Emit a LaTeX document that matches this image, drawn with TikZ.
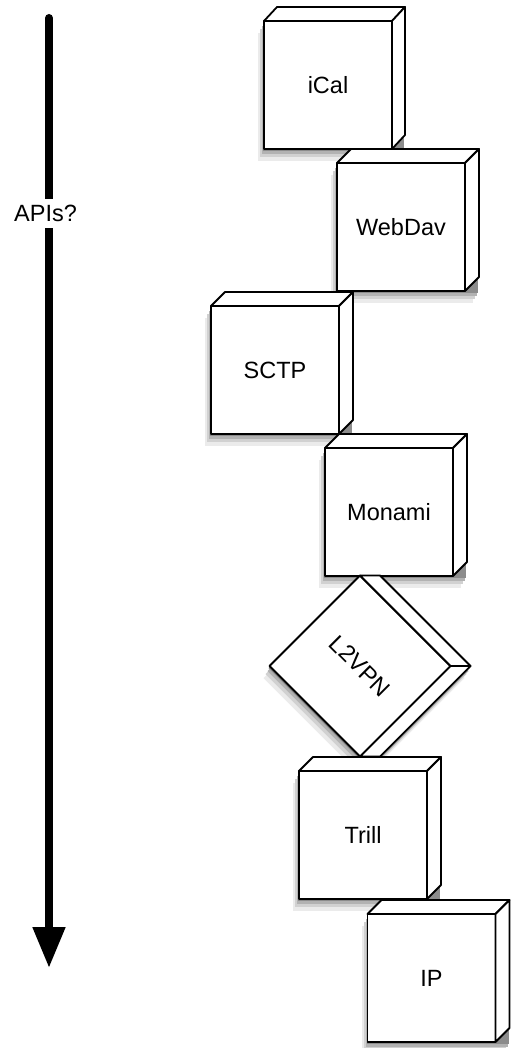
\documentclass[tikz,border=0pt]{standalone}
\usepackage{fontspec}
\setmainfont{Liberation Sans}
\usetikzlibrary{arrows.meta}
\tikzset{
  cubefront/.style={draw, line width=1.8pt, fill=white, minimum size=128pt, inner sep=0pt, outer sep=0pt,
    line join=round, font=\fontsize{23.5}{28}\selectfont},
  cubeface/.style={draw, line width=1.8pt, fill=white, line join=round},
  shA/.style={fill=black!8},
  shB/.style={fill=black!18},
  shC/.style={fill=black!30},
  shD/.style={fill=black!45},
  apilabel/.style={fill=white, inner xsep=1pt, inner ysep=6.4pt, font=\fontsize{23.5}{28}\selectfont},
  bigarrow/.style={line width=8pt, line cap=round, -{Triangle[width=31pt,length=41pt]}}
}
\newcommand\mkfaces[2]{%
  \draw[cubeface] (#1.north west) -- ++(#2) -- ([shift={(#2)}]#1.north east) -- (#1.north east) -- cycle;
  \draw[cubeface] (#1.north east) -- ++(#2) -- ([shift={(#2)}]#1.south east) -- (#1.south east) -- cycle;}
\begin{document}
\begin{tikzpicture}[x=1pt,y=-1pt]
  \useasboundingbox (0,0) rectangle (517,1048);
  % arrow
  \coordinate (atop) at (49,18);
  \coordinate (abot) at (49,968);
  \draw[bigarrow] (atop) -- (abot);
  \node[apilabel] (apis) at (45.5,213.5) {APIs?};
  % iCal
  \fill[shA] (258,33) rectangle (399,161);
  \fill[shB] (260,29) rectangle (401,157);
  \fill[shC] (262,26) rectangle (403,154);
  \fill[shD] (263,23) rectangle (404,151);
  \node[cubefront] (ical)   at (328,85)  {iCal};
  \mkfaces{ical}{13,-14}
  % WebDav
  \fill[shA] (331,175) rectangle (473,303);
  \fill[shB] (333,171) rectangle (475,299);
  \fill[shC] (335,168) rectangle (477,296);
  \fill[shD] (336,165) rectangle (478,293);
  \node[cubefront] (webdav) at (401,227) {WebDav};
  \mkfaces{webdav}{14,-14}
  % SCTP
  \fill[shA] (205,318) rectangle (347,446);
  \fill[shB] (207,314) rectangle (349,442);
  \fill[shC] (209,311) rectangle (351,439);
  \fill[shD] (210,308) rectangle (352,436);
  \node[cubefront] (sctp)   at (275,370) {SCTP};
  \mkfaces{sctp}{14,-14}
  % Monami
  \fill[shA] (319,460) rectangle (461,588);
  \fill[shB] (321,456) rectangle (463,584);
  \fill[shC] (323,453) rectangle (465,581);
  \fill[shD] (324,450) rectangle (466,578);
  \node[cubefront] (monami) at (389,512) {Monami};
  \mkfaces{monami}{14,-14}
  % L2VPN
  \fill[shA] (354,587.5) -- (374,587.5) -- (464.5,678) -- (374,768.5) -- (354,768.5) -- (263.5,678) -- cycle;
  \fill[shB] (356,583.5) -- (376,583.5) -- (466.5,674) -- (376,764.5) -- (356,764.5) -- (265.5,674) -- cycle;
  \fill[shC] (358,580.5) -- (378,580.5) -- (468.5,671) -- (378,761.5) -- (358,761.5) -- (267.5,671) -- cycle;
  \fill[shD] (359,577.5) -- (379,577.5) -- (469.5,668) -- (379,758.5) -- (359,758.5) -- (268.5,668) -- cycle;
  \node[cubefront, rotate=-45] (l2vpn) at (360,666) {L2VPN};
  \mkfaces{l2vpn}{20,0}
  % Trill
  \fill[shA] (293,783) rectangle (435,911);
  \fill[shB] (295,779) rectangle (437,907);
  \fill[shC] (297,776) rectangle (439,904);
  \fill[shD] (298,773) rectangle (440,901);
  \node[cubefront] (trill)  at (363,835) {Trill};
  \mkfaces{trill}{14,-14}
  % IP
  \fill[shA] (361.5,926) rectangle (503.5,1054);
  \fill[shB] (363.5,922) rectangle (505.5,1050);
  \fill[shC] (365.5,919) rectangle (507.5,1047);
  \fill[shD] (366.5,916) rectangle (508.5,1044);
  \node[cubefront] (ip)     at (431.5,978) {IP};
  \mkfaces{ip}{14,-14}
\end{tikzpicture}
\end{document}
